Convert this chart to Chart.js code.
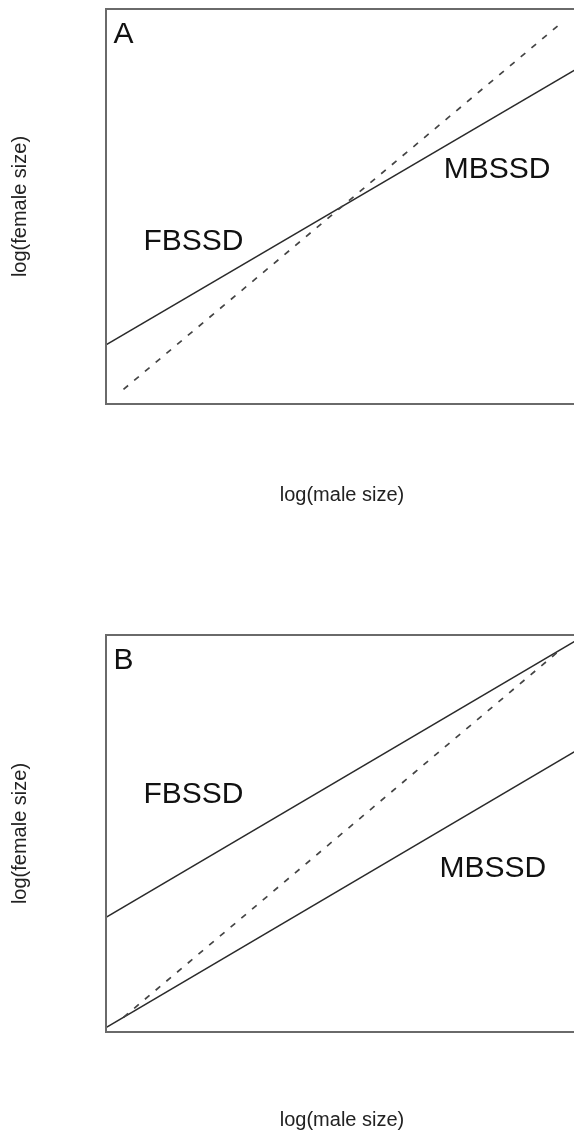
<!DOCTYPE html>
<html>
<head>
<meta charset="utf-8">
<script src="https://cdn.jsdelivr.net/npm/chart.js@4.4.1/dist/chart.umd.min.js"></script>
<style>
    html, body { margin: 0; padding: 0; background: #fff; overflow: hidden; }
    body { width: 574px; height: 1132px; position: relative; }
    canvas { position: absolute; left: 0; }
    #panelA { top: 0; }
    #panelB { top: 566px; }
</style>
</head>
<body>
<canvas id="panelA" width="578" height="566"></canvas>
<canvas id="panelB" width="578" height="566"></canvas>
<script>
// Axis range (log male size / log female size, arbitrary units)
const axisRange = [-0.04, 1.04];

// Isometry line (dashed): female = male
const isoX = [0, 1];
const isoY = [0, 1];

// Allometric lines drawn across the whole panel
const lineX = [-0.04, 1.04];
const panelAY = [0.122, 0.878];        // A: single line, crosses isometry mid-way
const panelBUpperY = [0.272, 1.028];   // B: upper line
const panelBLowerY = [-0.028, 0.728];  // B: lower line

// Labels inside the panels
const panelANotes = [
    { text: 'A', x: 0.0, y: 0.97 },
    { text: 'FBSSD', x: 0.16, y: 0.405 },
    { text: 'MBSSD', x: 0.855, y: 0.60 }
];
const panelBNotes = [
    { text: 'B', x: 0.0, y: 0.97 },
    { text: 'FBSSD', x: 0.16, y: 0.605 },
    { text: 'MBSSD', x: 0.845, y: 0.405 }
];

const xTitle = 'log(male size)';
const yTitle = 'log(female size)';
const fontFamily = '"Liberation Sans", Arial, Helvetica, sans-serif';

function toPoints(xs, ys) {
    return xs.map((x, i) => ({ x: x, y: ys[i] }));
}

function solid(xs, ys) {
    return {
        data: toPoints(xs, ys),
        showLine: true,
        borderColor: '#2a2a2a',
        borderWidth: 1.5,
        pointRadius: 0,
        fill: false
    };
}

function dashed(xs, ys) {
    return {
        data: toPoints(xs, ys),
        showLine: true,
        borderColor: '#444',
        borderWidth: 1.7,
        borderDash: [6, 8],
        pointRadius: 0,
        fill: false
    };
}

// Draws the frame and the text labels of a panel
const panelDecor = {
    id: 'panelDecor',
    afterDatasetsDraw(chart, args, opts) {
        const { ctx, chartArea: a, scales } = chart;
        ctx.save();
        ctx.strokeStyle = '#6a6a6a';
        ctx.lineWidth = 2;
        ctx.strokeRect(a.left, a.top, a.right - a.left, a.bottom - a.top);
        ctx.fillStyle = '#111';
        ctx.font = '30px ' + fontFamily;
        ctx.textAlign = 'center';
        ctx.textBaseline = 'middle';
        opts.notes.forEach(n => {
            ctx.fillText(n.text, scales.x.getPixelForValue(n.x), scales.y.getPixelForValue(n.y));
        });
        ctx.restore();
    }
};

function makePanel(id, datasets, notes, padBottom, xTitlePad, top) {
    return new Chart(document.getElementById(id), {
        type: 'scatter',
        data: { datasets: datasets },
        options: {
            responsive: false,
            animation: false,
            events: [],
            layout: { padding: { left: 0, right: 0, top: top, bottom: padBottom } },
            plugins: {
                legend: { display: false },
                tooltip: { enabled: false },
                panelDecor: { notes: notes }
            },
            scales: {
                x: {
                    type: 'linear',
                    min: axisRange[0],
                    max: axisRange[1],
                    ticks: { display: false },
                    grid: { display: false, drawTicks: false },
                    border: { display: false },
                    title: {
                        display: true,
                        text: xTitle,
                        color: '#222',
                        font: { family: fontFamily, size: 20, lineHeight: 1.2 },
                        padding: { top: xTitlePad, bottom: 0 }
                    }
                },
                y: {
                    type: 'linear',
                    min: axisRange[0],
                    max: axisRange[1],
                    ticks: { display: false },
                    grid: { display: false, drawTicks: false },
                    border: { display: false },
                    title: {
                        display: true,
                        text: yTitle,
                        color: '#222',
                        font: { family: fontFamily, size: 20, lineHeight: 1.2 },
                        padding: { top: 8, bottom: 74 }
                    }
                }
            }
        },
        plugins: [panelDecor]
    });
}

makePanel('panelA', [
    dashed(isoX, isoY),
    solid(lineX, panelAY)
], panelANotes, 59, 79, 9);

makePanel('panelB', [
    dashed(isoX, isoY),
    solid(lineX, panelBUpperY),
    solid(lineX, panelBLowerY)
], panelBNotes, 0, 76, 69);
</script>
</body>
</html>
